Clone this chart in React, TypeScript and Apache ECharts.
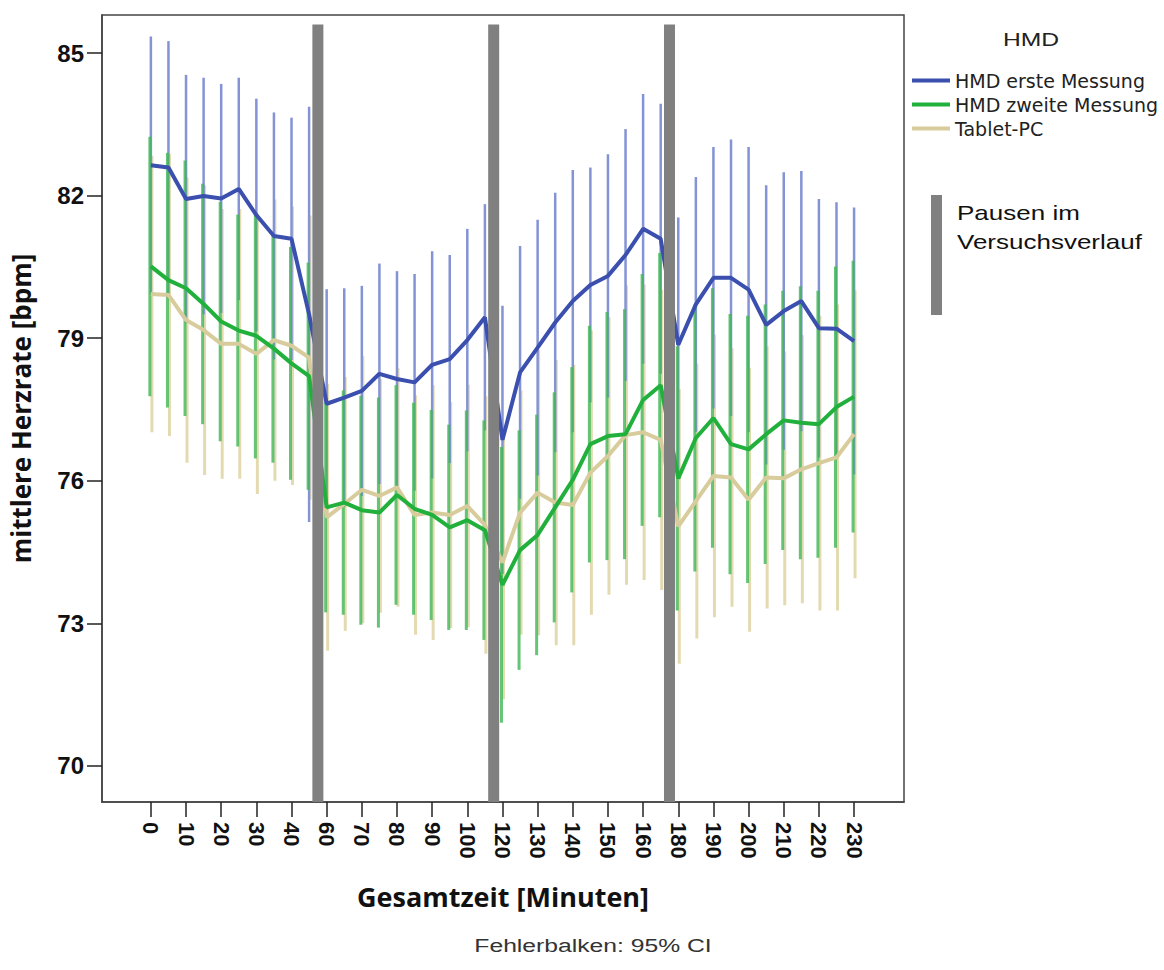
import React, { useEffect, useRef } from "react";
import * as echarts from "echarts";

// Category labels (minutes); the pauses (50-55, 110-115, 170-175) are not measured
const minutes = [
  "0", "5", "10", "15", "20", "25", "30", "35", "40", "45",
  "60", "65", "70", "75", "80", "85", "90", "95", "100", "105",
  "120", "125", "130", "135", "140", "145", "150", "155", "160", "165",
  "180", "185", "190", "195", "200", "205", "210", "215", "220", "225", "230",
];

// Pause positions (between category indices)
const pausePositions = [9.5, 19.5, 29.5];
const pauseTop = 85.6;

const yTicks = [70, 73, 76, 79, 82, 85];

// HMD erste Messung
const hmd1Mean = [
  82.64, 82.59, 81.93, 81.99, 81.94, 82.14, 81.59, 81.15, 81.09, 79.5,
  77.62, 77.75, 77.89, 78.25, 78.14, 78.07, 78.44, 78.56, 78.96, 79.44,
  76.86, 78.28, 78.8, 79.33, 79.78, 80.12, 80.31, 80.75, 81.3, 81.09,
  78.86, 79.71, 80.27, 80.27, 80.02, 79.28, 79.57, 79.78, 79.21, 79.2, 78.94,
];
const hmd1Low = [
  79.93, 79.93, 79.32, 79.5, 79.53, 79.8, 79.14, 78.55, 78.54, 75.13,
  75.21, 75.45, 75.68, 75.93, 75.87, 75.79, 76.05, 76.37, 76.62, 77.06,
  74.04, 75.62, 76.11, 76.6, 77.02, 77.65, 77.75, 78.1, 78.46, 78.25,
  76.18, 77.03, 77.52, 77.36, 77.02, 76.34, 76.65, 77.04, 76.49, 76.54, 76.13,
];
const hmd1High = [
  85.35, 85.25, 84.54, 84.48, 84.35, 84.48, 84.04, 83.75, 83.64, 83.87,
  80.03, 80.05, 80.1, 80.57, 80.41, 80.35, 80.83, 80.75, 81.3, 81.82,
  79.68, 80.94, 81.49, 82.06, 82.54, 82.59, 82.87, 83.4, 84.14, 83.93,
  81.54, 82.39, 83.02, 83.18, 83.02, 82.22, 82.49, 82.52, 81.93, 81.86, 81.75,
];

// HMD zweite Messung
const hmd2Mean = [
  80.51, 80.22, 80.05, 79.72, 79.35, 79.16, 79.05, 78.78, 78.47, 78.2,
  75.44, 75.54, 75.38, 75.33, 75.7, 75.41, 75.28, 75.02, 75.17, 74.96,
  73.81, 74.54, 74.86, 75.44, 76.02, 76.77, 76.94, 76.98, 77.7, 78.01,
  76.05, 76.9, 77.32, 76.77, 76.66, 76.98, 77.27, 77.22, 77.19, 77.55, 77.77,
];
const hmd2Low = [
  77.78, 77.54, 77.36, 77.19, 76.83, 76.72, 76.47, 76.38, 76.02, 75.81,
  73.23, 73.18, 72.97, 72.91, 73.39, 73.18, 73.07, 72.86, 72.86, 72.65,
  70.91, 72.02, 72.33, 73.02, 73.65, 74.28, 74.33, 74.35, 75.05, 75.23,
  73.27, 74.09, 74.59, 74.03, 73.85, 74.25, 74.54, 74.35, 74.38, 74.59, 74.91,
];
const hmd2High = [
  83.24, 82.9, 82.74, 82.25, 81.87, 81.6, 81.63, 81.18, 80.92, 80.59,
  77.65, 77.9, 77.79, 77.75, 78.01, 77.64, 77.49, 77.18, 77.48, 77.27,
  76.71, 77.06, 77.39, 77.86, 78.39, 79.26, 79.55, 79.61, 80.35, 80.79,
  78.83, 79.71, 80.05, 79.51, 79.47, 79.71, 80.0, 80.09, 80.0, 80.51, 80.63,
];

// Tablet-PC
const tabletMean = [
  79.93, 79.91, 79.38, 79.17, 78.88, 78.88, 78.67, 78.96, 78.84, 78.59,
  75.23, 75.51, 75.81, 75.68, 75.86, 75.28, 75.33, 75.28, 75.47, 75.07,
  74.28, 75.33, 75.75, 75.54, 75.49, 76.17, 76.52, 76.96, 77.02, 76.86,
  75.04, 75.57, 76.1, 76.07, 75.6, 76.07, 76.05, 76.24, 76.37, 76.49, 76.98,
];
const tabletLow = [
  77.02, 76.94, 76.38, 76.12, 76.04, 76.04, 75.72, 76.0, 75.91, 75.6,
  72.42, 72.84, 73.0, 73.22, 73.35, 72.76, 72.65, 72.9, 72.92, 72.36,
  71.4, 72.76, 72.75, 72.54, 72.54, 73.18, 73.6, 73.81, 73.91, 73.7,
  72.15, 72.68, 73.13, 73.35, 72.82, 73.31, 73.38, 73.42, 73.27, 73.27, 73.95,
];
const tabletHigh = [
  82.84, 82.88, 82.38, 82.22, 81.72, 81.72, 81.62, 81.92, 81.77, 81.58,
  78.04, 78.18, 78.62, 78.14, 78.37, 77.8, 78.01, 77.66, 78.02, 77.78,
  77.16, 77.9, 78.75, 78.54, 78.44, 79.16, 79.44, 80.11, 80.13, 80.02,
  77.93, 78.46, 79.07, 78.79, 78.38, 78.83, 78.72, 79.06, 79.47, 79.71, 80.01,
];

const NAME1 = "HMD erste Messung";
const NAME2 = "HMD zweite Messung";
const NAME3 = "Tablet-PC";

const labelIdx = minutes.map((_, i) => i).filter((i) => i % 2 === 0);

function errorSeries(name: string, low: number[], high: number[], color: string, width: number, dx: number, z: number) {
  return {
    name,
    type: "custom",
    z,
    silent: true,
    data: low.map((l, i) => [i, l, high[i]]),
    encode: { x: 0, y: [1, 2] },
    renderItem: (params: any, api: any) => {
      const x = api.value(0);
      const p1 = api.coord([x, api.value(1)]);
      const p2 = api.coord([x, api.value(2)]);
      return {
        type: "line",
        shape: { x1: p1[0] + dx, y1: p1[1], x2: p2[0] + dx, y2: p2[1] },
        style: { stroke: color, lineWidth: width },
      };
    },
  };
}

function lineSeries(name: string, mean: number[], color: string, z: number) {
  return {
    name,
    type: "line",
    z,
    data: mean.map((v, i) => [i, v]),
    symbol: "none",
    lineStyle: { color, width: 4 },
    itemStyle: { color },
  };
}

export default function App() {
  const ref = useRef<HTMLDivElement>(null);
  useEffect(() => {
    if (!ref.current) return;
    const chart = echarts.init(ref.current, undefined, { renderer: "svg" });
    const option: any = {
      animation: false,
      backgroundColor: "#ffffff",
      grid: {
        left: 100,
        right: 260,
        top: 15,
        bottom: 168,
        show: true,
        borderColor: "#444",
        borderWidth: 1.5,
        backgroundColor: "transparent",
      },
      legend: {
        data: [NAME1, NAME2, NAME3],
        orient: "vertical",
        left: 907,
        top: 66,
        itemWidth: 38,
        itemHeight: 4,
        itemGap: 5,
        icon: "rect",
        selectedMode: false,
        textStyle: { fontFamily: "DejaVu Sans", fontSize: 19, color: "#222" },
      },
      xAxis: {
        type: "value",
        min: -2.78,
        max: 42.84,
        name: "Gesamtzeit [Minuten]",
        nameLocation: "middle",
        nameGap: 81,
        nameTextStyle: { fontFamily: "Open Sans", fontWeight: "bold", fontSize: 27, color: "#111" },
        splitLine: { show: false },
        axisLine: { show: true, onZero: false, lineStyle: { color: "#444", width: 1.5 } },
        axisTick: {
          show: true,
          length: 15,
          customValues: labelIdx,
          lineStyle: { color: "#222", width: 1.5 },
        },
        axisLabel: {
          customValues: labelIdx,
          rotate: -90,
          margin: 20,
          fontFamily: "Liberation Sans",
          fontWeight: "bold",
          fontSize: 22,
          color: "#111",
          formatter: (v: number) => minutes[Math.round(v)],
        },
      },
      yAxis: {
        type: "value",
        min: 69.24,
        max: 85.8,
        name: "mittlere Herzrate [bpm]",
        nameLocation: "middle",
        nameGap: 68,
        nameTextStyle: { fontFamily: "Open Sans", fontWeight: "bold", fontSize: 26, color: "#111" },
        splitLine: { show: false },
        axisLine: { show: true, onZero: false, lineStyle: { color: "#444", width: 1.5 } },
        axisTick: {
          show: true,
          length: 15,
          customValues: yTicks,
          lineStyle: { color: "#222", width: 1.5 },
        },
        axisLabel: {
          customValues: yTicks,
          margin: 18,
          fontFamily: "Liberation Sans",
          fontWeight: "bold",
          fontSize: 24,
          color: "#111",
        },
      },
      series: [
        errorSeries("ci-tablet", tabletLow, tabletHigh, "#e4dab2", 3, 1, 2),
        errorSeries("ci-hmd1", hmd1Low, hmd1High, "#8393d4", 2.5, 0, 3),
        errorSeries("ci-hmd2", hmd2Low, hmd2High, "rgba(62,182,84,0.8)", 3, -1, 4),
        lineSeries(NAME3, tabletMean, "#d8cc9c", 5),
        lineSeries(NAME2, hmd2Mean, "#22b03d", 6),
        lineSeries(NAME1, hmd1Mean, "#3a4fae", 7),
        {
          name: "pausen",
          type: "custom",
          z: 10,
          silent: true,
          data: pausePositions.map((p) => [p, pauseTop]),
          encode: { x: 0, y: 1 },
          renderItem: (params: any, api: any) => {
            const p = api.coord([api.value(0), api.value(1)]);
            const bottom = params.coordSys.y + params.coordSys.height;
            return {
              type: "rect",
              shape: { x: p[0] - 5.5, y: p[1], width: 11, height: bottom - p[1] },
              style: { fill: "#808080" },
            };
          },
        },
      ],
      graphic: [
        {
          type: "text",
          x: 1031,
          y: 40,
          scaleX: 1.3,
          style: { text: "HMD", font: '19px "Liberation Sans"', fill: "#222", align: "center", verticalAlign: "middle" },
        },
        { type: "rect", shape: { x: 931, y: 195, width: 11, height: 120 }, style: { fill: "#808080" } },
        {
          type: "text",
          x: 957,
          y: 213,
          scaleX: 1.3,
          style: { text: "Pausen im", font: '20px "Liberation Sans"', fill: "#111", align: "left", verticalAlign: "middle" },
        },
        {
          type: "text",
          x: 957,
          y: 242,
          scaleX: 1.3,
          style: { text: "Versuchsverlauf", font: '20px "Liberation Sans"', fill: "#111", align: "left", verticalAlign: "middle" },
        },
        {
          type: "text",
          x: 593,
          y: 946,
          scaleX: 1.3,
          style: { text: "Fehlerbalken: 95% CI", font: '19px "Liberation Sans"', fill: "#333", align: "center", verticalAlign: "middle" },
        },
      ],
    };
    chart.setOption(option);
    return () => chart.dispose();
  }, []);
  return (
    <div
      ref={ref}
      style={{ position: "absolute", left: 0, top: 0, width: 1164, height: 970, background: "#fff" }}
    />
  );
}
